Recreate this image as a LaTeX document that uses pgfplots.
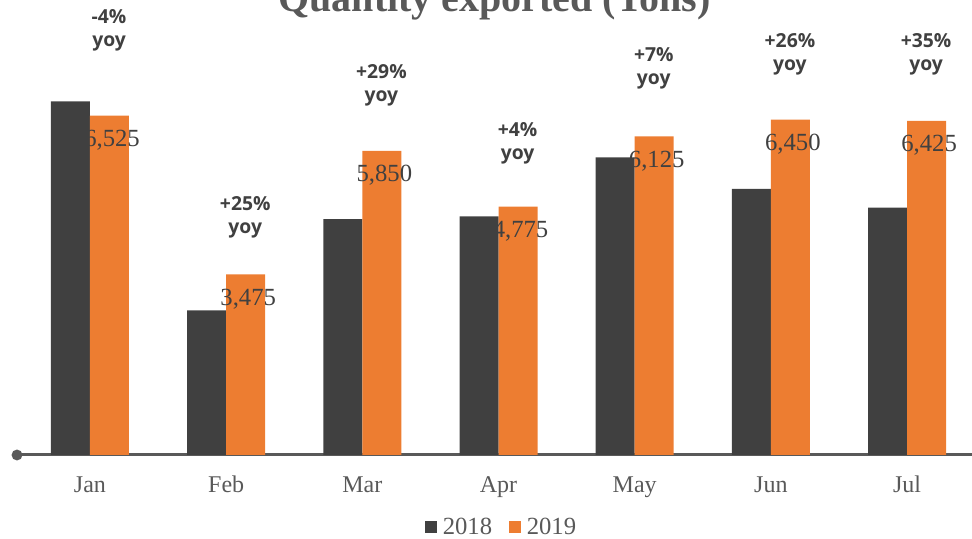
\documentclass[border=0pt]{standalone}
\usepackage{pgfplots}
\pgfplotsset{compat=1.18}
\usepackage{fontspec}
\setmainfont{Liberation Serif}
\newfontfamily\yoyfont{Open Sans}
\definecolor{dk}{HTML}{404040}
\definecolor{org}{HTML}{ED7D31}
\definecolor{axg}{HTML}{595959}
\begin{document}
\begin{tikzpicture}
\begin{axis}[
 at={(0pt,0pt)}, anchor=south west,
 scale only axis, width=716.25pt, height=341.25pt,
 xmin=-0.536, xmax=6.477, ymin=0, ymax=8750,
 ybar=0pt, bar width=29.25pt,
 axis y line=none, axis x line=bottom,
 x axis line style={-, line width=2.25pt, color=axg},
 xtick={0,...,6}, xticklabels={Jan,Feb,Mar,Apr,May,Jun,Jul},
 major tick length=0pt,
 xticklabel style={anchor=base, yshift=-28.5pt, font=\fontsize{18}{20}\selectfont, text=axg},
 clip=false,
 legend style={at={(0.508,-0.158)}, anchor=center, draw=none, legend columns=-1,
   font=\fontsize{18.5}{20}\selectfont, text=axg,
   /tikz/every odd column/.append style={column sep=2pt},
   /tikz/every even column/.append style={column sep=11pt}},
 /pgf/number format/assume math mode=true,
]
\addplot[fill=dk, draw=none,
  legend image code/.code={\fill[dk] (0pt,-4.5pt) rectangle (9pt,4.5pt);}]
  coordinates {(0,6800) (1,2780) (2,4535) (3,4591) (4,5724) (5,5119) (6,4759)};
\addplot[fill=org, draw=none,
  nodes near coords={\pgfmathprintnumber[1000 sep={,}]{\pgfplotspointmeta}},
  every node near coord/.append style={anchor=base, yshift=-23.25pt, xshift=1.9pt,
     font=\fontsize{18.5}{20}\selectfont, text=dk},
  legend image code/.code={\fill[org] (0pt,-4.5pt) rectangle (9pt,4.5pt);}]
  coordinates {(0,6525) (1,3475) (2,5850) (3,4775) (4,6125) (5,6450) (6,6425)};
\legend{2018,2019}
\fill[axg] (rel axis cs:0,0) circle (4.1pt);
\node[font=\fontsize{30}{32}\selectfont\bfseries, text=axg, anchor=base, yshift=-9pt]
  at (rel axis cs:0.5,1) {Quantity exported (Tons)};
\tikzset{yoy/.style={font=\yoyfont\bfseries\fontsize{14.5}{17.5}\selectfont, text=dk, align=center, anchor=center}}
\node[yoy] at (axis cs:0.14,8173) {-4\%\\yoy};
\node[yoy] at (axis cs:1.14,4577) {+25\%\\yoy};
\node[yoy] at (axis cs:2.14,7115) {+29\%\\yoy};
\node[yoy] at (axis cs:3.14,6000) {+4\%\\yoy};
\node[yoy] at (axis cs:4.14,7442) {+7\%\\yoy};
\node[yoy] at (axis cs:5.14,7711) {+26\%\\yoy};
\node[yoy] at (axis cs:6.14,7711) {+35\%\\yoy};
\end{axis}
\pgfresetboundingbox
\path[use as bounding box] (-12.75pt,-63pt) rectangle (716.25pt,341.25pt);
\end{tikzpicture}
\end{document}
